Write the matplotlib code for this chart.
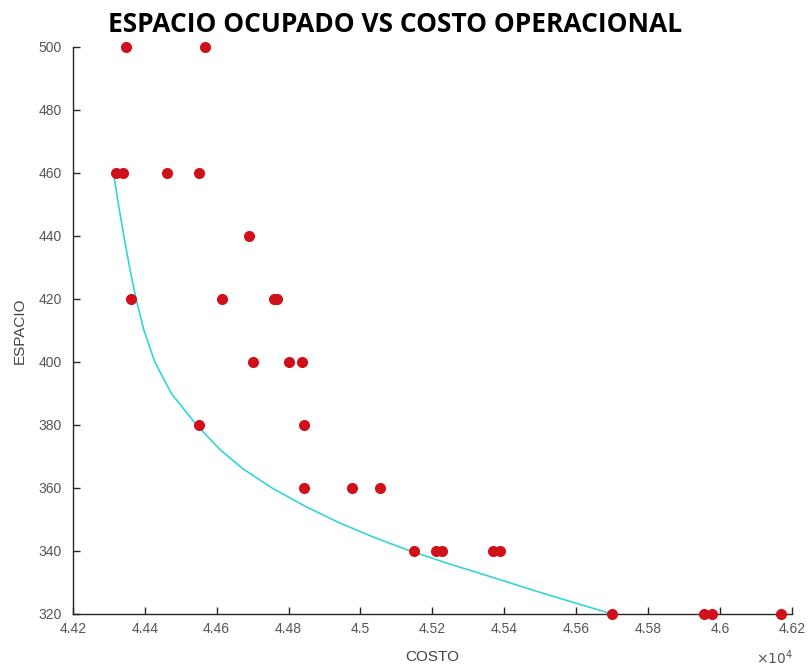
import matplotlib
matplotlib.use("Agg")
import matplotlib.pyplot as plt
from matplotlib.ticker import FuncFormatter

# Solutions: operating cost vs occupied space
costo = [44348, 44569,
         44320, 44339, 44463, 44551,
         44690,
         44361, 44616, 44759, 44768,
         44702, 44800, 44838,
         44550, 44842,
         44842, 44976, 45054,
         45150, 45210, 45227, 45369, 45388,
         45700, 45955, 45977, 46169]
espacio = [500, 500,
           460, 460, 460, 460,
           440,
           420, 420, 420, 420,
           400, 400, 400,
           380, 380,
           360, 360, 360,
           340, 340, 340, 340, 340,
           320, 320, 320, 320]

# Fitted front
curva_costo = [44313, 44327, 44342, 44358, 44376, 44398, 44428, 44474, 44544, 44611,
               44674, 44754, 44849, 44940, 45036, 45131, 45250, 45360, 45470, 45585, 45700]
curva_espacio = [460, 450, 440, 430, 420, 410, 400, 390, 380, 372,
                 366, 360, 354, 349, 344.4, 340.3, 335.8, 331.9, 327.9, 323.9, 320]

xticks = [44200, 44400, 44600, 44800, 45000, 45200, 45400, 45600, 45800, 46000, 46200]
yticks = [320, 340, 360, 380, 400, 420, 440, 460, 480, 500]

fig = plt.figure(figsize=(8.1, 6.7), dpi=100)
ax = fig.add_axes([0.0898, 0.0836, 0.888, 0.8467])

ax.plot(curva_costo, curva_espacio, color="#33d6d6", lw=1.2, zorder=2,
        solid_joinstyle="round")
ax.plot(costo, espacio, "o", color="#d0111b", markersize=8, markeredgewidth=0, zorder=3,
        clip_on=False)

ax.set_xlim(44200, 46200)
ax.set_ylim(320, 500)
ax.set_xticks(xticks)
ax.set_yticks(yticks)
ax.xaxis.set_major_formatter(FuncFormatter(lambda v, p: f"{v/1e4:g}"))

for s in ("top", "right"):
    ax.spines[s].set_visible(False)
for s in ("left", "bottom"):
    ax.spines[s].set_color("#262626")
    ax.spines[s].set_linewidth(1.0)
ax.tick_params(direction="in", length=5, width=1.0, color="#262626",
               labelsize=10, labelcolor="#555555")
ax.tick_params(axis="x", pad=6)
ax.tick_params(axis="y", pad=8)
for lab in ax.get_xticklabels() + ax.get_yticklabels():
    lab.set_family("Liberation Sans")

ax.set_xlabel("COSTO", family="Liberation Sans", fontsize=11, color="#444444", labelpad=10)
ax.set_ylabel("ESPACIO", family="Liberation Sans", fontsize=11, color="#444444", labelpad=8)
ax.text(0.975, -0.093, r"$\times10^4$", transform=ax.transAxes, ha="center", va="bottom",
        fontsize=10, color="#555555")

fig.text(0.488, 0.963, "ESPACIO OCUPADO VS COSTO OPERACIONAL", ha="center", va="center",
         family="Open Sans", fontweight="bold", fontsize=19, color="#000000")

fig.savefig("out.png", dpi=100)
